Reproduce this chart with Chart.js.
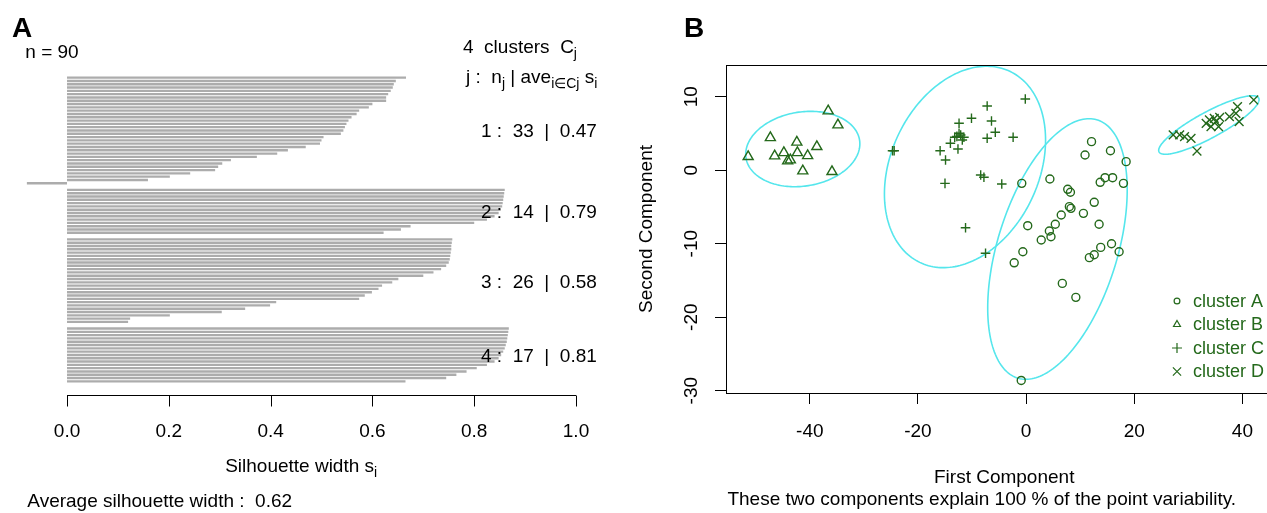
<!DOCTYPE html>
<html>
<head>
<meta charset="utf-8">
<script src="https://cdn.jsdelivr.net/npm/chart.js@4.4.0/dist/chart.umd.min.js"></script>
<style>
  html, body { margin: 0; padding: 0; background: #fff; overflow: hidden; width: 1267px; height: 513px; }
  #panelA { position: absolute; left: 0; top: 0; }
  #panelB { position: absolute; left: 630px; top: 0; }
</style>
</head>
<body>
<canvas id="panelA" width="630" height="513"></canvas>
<canvas id="panelB" width="660" height="513"></canvas>
<script>
// ---------- panel A : silhouette widths, sorted within each cluster ----------
const sil1 = [0.666, 0.646, 0.642, 0.640, 0.636, 0.631, 0.627, 0.627, 0.600, 0.593, 0.574,
              0.569, 0.559, 0.553, 0.549, 0.546, 0.543, 0.538, 0.504, 0.500, 0.497, 0.469,
              0.434, 0.413, 0.373, 0.322, 0.305, 0.297, 0.291, 0.242, 0.202, 0.159, -0.079];
const sil2 = [0.860, 0.859, 0.858, 0.857, 0.856, 0.855, 0.852, 0.848, 0.840, 0.825, 0.800,
              0.675, 0.656, 0.622];
const sil3 = [0.757, 0.756, 0.755, 0.755, 0.754, 0.753, 0.752, 0.750, 0.745, 0.735, 0.720,
              0.700, 0.651, 0.639, 0.619, 0.612, 0.599, 0.585, 0.574, 0.411, 0.399, 0.350,
              0.304, 0.202, 0.124, 0.120];
const sil4 = [0.868, 0.867, 0.866, 0.865, 0.864, 0.862, 0.860, 0.857, 0.853, 0.848, 0.840,
              0.825, 0.805, 0.785, 0.765, 0.745, 0.665];
const clusterSizes = [33, 14, 26, 17];
const clusterAvg = [0.47, 0.79, 0.58, 0.81];
const silTicks = [0, 0.2, 0.4, 0.6, 0.8, 1.0];
const nObs = 90;
const avgSil = 0.62;

// ---------- panel B : clusplot on the first two components ----------
const clusterA = [[12.1, 3.88], [10.9, 2.07], [15.6, 2.65], [18.5, 1.16], [-0.8, -1.79],
                  [4.4, -1.2], [13.7, -1.65], [14.6, -1.02], [16.0, -1.02], [18.0, -1.79],
                  [7.7, -2.6], [8.2, -3.0], [12.6, -4.37], [8.0, -4.96], [8.3, -5.19],
                  [10.6, -5.87], [6.5, -6.1], [5.4, -7.36], [13.5, -7.36], [0.3, -7.55],
                  [4.3, -8.27], [4.6, -9.05], [2.8, -9.5], [15.8, -10.0], [13.8, -10.5],
                  [12.6, -11.5], [11.7, -11.9], [17.2, -11.1], [-0.6, -11.1], [-2.2, -12.6],
                  [6.7, -15.4], [9.2, -17.3], [-0.9, -28.6]];
const clusterB = [[-51.4, 1.84], [-47.3, 4.42], [-46.5, 1.93], [-44.8, 2.38], [-44.1, 1.25],
                  [-43.6, 1.39], [-42.4, 3.8], [-42.3, 2.38], [-40.4, 1.97], [-38.7, 3.2],
                  [-41.3, -0.11], [-36.6, 8.05], [-34.8, 6.15], [-35.9, -0.2]];
const clusterC = [[-0.15, 9.69], [-7.2, 8.73], [-10.1, 7.06], [-6.4, 6.69], [-12.4, 6.38],
                  [-5.7, 5.16], [-12.4, 5.02], [-13.2, 4.48], [-11.5, 4.48], [-12.1, 4.79],
                  [-7.2, 4.34], [-2.4, 4.48], [-14.0, 3.66], [-12.6, 2.88], [-24.7, 2.65],
                  [-24.4, 2.65], [-15.9, 2.65], [-14.9, 1.39], [-15.0, -1.79], [-8.4, -0.65],
                  [-7.8, -0.97], [-4.5, -1.88], [-11.2, -7.82], [-7.5, -11.3], [-11.8, 4.1],
                  [-12.8, 4.6]];
const clusterD = [[42.1, 9.55], [39.1, 8.64], [38.8, 7.74], [39.4, 6.6], [37.6, 7.28],
                  [35.8, 7.2], [34.8, 7.06], [35.1, 6.6], [33.9, 6.83], [33.3, 6.38],
                  [35.6, 5.92], [34.2, 5.92], [27.2, 4.79], [28.4, 4.79], [29.3, 4.56],
                  [30.5, 4.34], [31.6, 2.61]];
const clusterNames = ['cluster A', 'cluster B', 'cluster C', 'cluster D'];
// spanning ellipses: centre x, centre y, then two conjugate semi-axes (data units)
const ellipseA = [5.8, -10.72, 12.9, 8.03, 0, 15.8];
const ellipseB = [-41.3, 2.88, 10.5, 1.22, -1.07, 4.98];
const ellipseC = [-11.3, 0.44, 14.9, 3.67, 0, 13.2];
const ellipseD = [33.8, 6.15, 9.21, 3.67, -1.14, 1.55];
const pcaXTicks = [-40, -20, 0, 20, 40];
const pcaYTicks = [-30, -20, -10, 0, 10];
const pointVariability = 100;

const FONT = "'Liberation Sans', Arial, Helvetica, sans-serif";
const GREEN = '#24691b';
const CYAN = '#55e6ec';

// text with R-like subscripts: parts = [[text, isSub], ...]
function richText(ctx, parts, x, y, size, align) {
  const subSize = Math.round(size * 0.72);
  let w = 0;
  parts.forEach(([t, s]) => { ctx.font = (s ? subSize : size) + 'px ' + FONT; w += ctx.measureText(t).width; });
  let cx = align === 'center' ? x - w / 2 : align === 'right' ? x - w : x;
  ctx.textAlign = 'left';
  ctx.textBaseline = 'alphabetic';
  parts.forEach(([t, s]) => {
    ctx.font = (s ? subSize : size) + 'px ' + FONT;
    ctx.fillText(t, cx, s ? y + size * 0.28 : y);
    cx += ctx.measureText(t).width;
  });
}

// one empty row between clusters, like the R barplot
const silRows = [];
[sil1, sil2, sil3, sil4].forEach((c, k) => {
  if (k > 0) silRows.push(null);
  c.forEach(v => silRows.push(v));
});

const silDecor = {
  id: 'silDecor',
  afterDraw(chart) {
    const { ctx, chartArea } = chart;
    const xs = chart.scales.x, ys = chart.scales.y;
    ctx.save();
    // x axis from 0 to 1 only
    const axisY = chartArea.bottom + 12.5;
    ctx.strokeStyle = '#000';
    ctx.lineWidth = 1;
    ctx.beginPath();
    ctx.moveTo(xs.getPixelForValue(silTicks[0]), axisY);
    ctx.lineTo(xs.getPixelForValue(silTicks[silTicks.length - 1]), axisY);
    silTicks.forEach(v => {
      const px = Math.round(xs.getPixelForValue(v)) + 0.5;
      ctx.moveTo(px, axisY);
      ctx.lineTo(px, axisY + 11);
    });
    ctx.stroke();

    ctx.fillStyle = '#000';
    ctx.font = 'bold 28px ' + FONT;
    ctx.textAlign = 'left';
    ctx.fillText('A', 12, 37);
    richText(ctx, [['n = ' + nObs]], chartArea.left - 1, 58, 19, 'left');
    richText(ctx, [['4  clusters  C'], ['j', 1]], 463, 53, 19, 'left');
    richText(ctx, [['j :  n'], ['j', 1], [' | ave'], ['i\u2208Cj', 1], [' s'], ['i', 1]], 466, 83, 19, 'left');

    let start = 0;
    clusterSizes.forEach((n, k) => {
      const py = ys.getPixelForValue(start + (n - 1) / 2);
      richText(ctx, [[(k + 1) + ' :  ' + n + '  |  ' + clusterAvg[k].toFixed(2)]], 481, py + 7, 19, 'left');
      start += n + 1;
    });

    const mid = (chartArea.left + chartArea.right) / 2;
    richText(ctx, [['Silhouette width s'], ['i', 1]], mid, 472, 19, 'center');
    richText(ctx, [['Average silhouette width :  ' + avgSil.toFixed(2)]], chartArea.left + 1, 507, 19, 'left');
    ctx.restore();
  }
};

new Chart(document.getElementById('panelA').getContext('2d'), {
  type: 'bar',
  data: {
    labels: silRows.map((_, i) => String(i)),
    datasets: [{
      data: silRows,
      backgroundColor: '#acacac',
      borderWidth: 0,
      barPercentage: 0.72,
      categoryPercentage: 1.0
    }]
  },
  options: {
    indexAxis: 'y',
    responsive: false,
    animation: false,
    layout: { padding: { left: 26.3, right: 54, top: 76, bottom: 0 } },
    plugins: { legend: { display: false }, tooltip: { enabled: false } },
    scales: {
      y: { display: false },
      x: {
        min: -0.08,
        max: 1.0,
        afterBuildTicks: s => { s.ticks = silTicks.map(v => ({ value: v })); },
        afterFit: s => { s.height = 130; },
        grid: { display: false, drawTicks: false },
        border: { display: false },
        ticks: {
          padding: 37.6,
          color: '#000',
          font: { family: FONT, size: 19 },
          maxRotation: 0,
          callback: v => Number(v).toFixed(1)
        }
      }
    }
  },
  plugins: [silDecor]
});

// ---------- panel B ----------
const pcaDecor = {
  id: 'pcaDecor',
  beforeDatasetsDraw(chart) {
    const { ctx, chartArea: a } = chart;
    const xs = chart.scales.x, ys = chart.scales.y;
    ctx.save();
    ctx.beginPath();
    ctx.rect(a.left, a.top, a.width, a.height);
    ctx.clip();
    ctx.strokeStyle = CYAN;
    ctx.lineWidth = 1.6;
    [ellipseA, ellipseB, ellipseC, ellipseD].forEach(e => {
      ctx.beginPath();
      for (let i = 0; i <= 200; i++) {
        const t = i / 200 * 2 * Math.PI;
        const px = xs.getPixelForValue(e[0] + e[2] * Math.cos(t) + e[4] * Math.sin(t));
        const py = ys.getPixelForValue(e[1] + e[3] * Math.cos(t) + e[5] * Math.sin(t));
        if (i === 0) ctx.moveTo(px, py); else ctx.lineTo(px, py);
      }
      ctx.closePath();
      ctx.stroke();
    });
    ctx.restore();
  },
  afterDraw(chart) {
    const { ctx, chartArea: a } = chart;
    const xs = chart.scales.x;
    ctx.save();
    ctx.strokeStyle = '#000';
    ctx.lineWidth = 1;
    ctx.strokeRect(Math.round(a.left) + 0.5, Math.round(a.top) + 0.5, Math.round(a.width), Math.round(a.height));

    // sub title, R puts it a little left of the axis title
    ctx.fillStyle = '#000';
    ctx.font = '19px ' + FONT;
    ctx.textAlign = 'center';
    ctx.textBaseline = 'middle';
    ctx.fillText('These two components explain ' + pointVariability + ' % of the point variability.',
                 xs.getPixelForValue(-8.2), 500);

    // legend in the lower right corner
    const styles = chart.data.datasets.map(d => d.pointStyle);
    const radii = [2.9, 4.0, 5.0, 5.8];
    clusterNames.forEach((name, k) => {
      const y = 301 + k * 23.5;
      ctx.strokeStyle = GREEN;
      ctx.fillStyle = 'rgba(0,0,0,0)';
      ctx.lineWidth = 1.2;
      Chart.helpers.drawPoint(ctx, { pointStyle: styles[k], radius: radii[k], borderWidth: 1.2, rotation: 0 }, 547, y);
      ctx.fillStyle = GREEN;
      ctx.font = '18px ' + FONT;
      ctx.textAlign = 'left';
      ctx.textBaseline = 'middle';
      ctx.fillText(name, 563, y + 1);
    });

    ctx.fillStyle = '#000';
    ctx.font = 'bold 28px ' + FONT;
    ctx.textAlign = 'left';
    ctx.textBaseline = 'alphabetic';
    ctx.fillText('B', 54, 37);
    ctx.restore();
  }
};

function pointSet(points, style, radius) {
  return {
    data: points.map(p => ({ x: p[0], y: p[1] })),
    pointStyle: style,
    radius: radius,
    borderWidth: 1.4,
    borderColor: GREEN,
    backgroundColor: 'rgba(0,0,0,0)',
    showLine: false
  };
}

new Chart(document.getElementById('panelB').getContext('2d'), {
  type: 'scatter',
  data: {
    datasets: [
      pointSet(clusterA, 'circle', 4),
      pointSet(clusterB, 'triangle', 5.8),
      pointSet(clusterC, 'cross', 4.8),
      pointSet(clusterD, 'crossRot', 6.2)
    ]
  },
  options: {
    responsive: false,
    animation: false,
    layout: { padding: { left: 0, right: 5, top: 65, bottom: 0 } },
    plugins: { legend: { display: false }, tooltip: { enabled: false } },
    scales: {
      x: {
        type: 'linear',
        min: -55.5,
        max: 47.4,
        afterBuildTicks: s => { s.ticks = pcaXTicks.map(v => ({ value: v })); },
        afterFit: s => { s.height = 120; },
        grid: { display: true, drawOnChartArea: false, drawTicks: true, tickLength: 11, color: '#000' },
        border: { display: true, color: '#000' },
        ticks: { padding: 16.6, color: '#000', font: { family: FONT, size: 19 }, maxRotation: 0 },
        title: {
          display: true,
          text: 'First Component',
          color: '#000',
          font: { family: FONT, size: 19 },
          padding: { top: 0, bottom: 23.6 }
        }
      },
      y: {
        type: 'linear',
        min: -30.31,
        max: 14.31,
        afterBuildTicks: s => { s.ticks = pcaYTicks.map(v => ({ value: v })); },
        afterFit: s => { s.width = 96; },
        grid: { display: true, drawOnChartArea: false, drawTicks: true, tickLength: 11, color: '#000' },
        border: { display: true, color: '#000' },
        ticks: { padding: 9.3, color: '#000', font: { family: FONT, size: 19 }, minRotation: 90, maxRotation: 90, crossAlign: 'center' },
        title: {
          display: true,
          text: 'Second Component',
          color: '#000',
          font: { family: FONT, size: 19 },
          padding: { top: 5.6, bottom: 0 }
        }
      }
    }
  },
  plugins: [pcaDecor]
});
</script>
</body>
</html>
